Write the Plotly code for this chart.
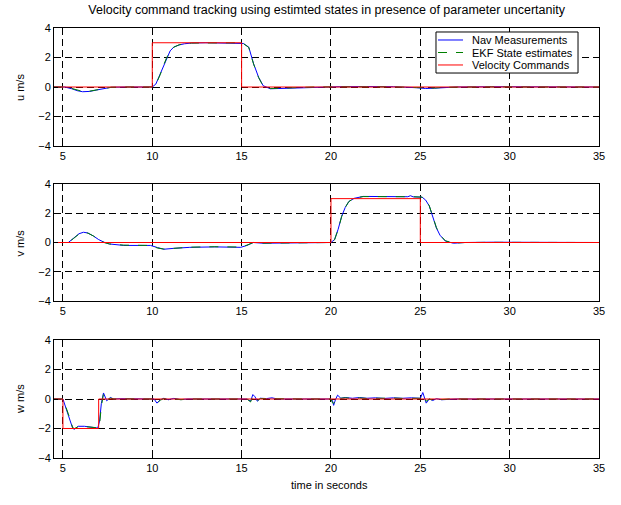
import plotly.graph_objects as go
from plotly.subplots import make_subplots

# ---------------- data ----------------
x_ticks = [5, 10, 15, 20, 25, 30, 35]
y_ticks = [-4, -2, 0, 2, 4]

series_names = ["Nav Measurements", "EKF State estimates", "Velocity Commands"]
y_labels = ["u m/s", "v m/s", "w m/s"]
title_text = "Velocity command tracking using estimted states in presence of parameter uncertanity"
x_label = "time in seconds"

# commands
t_cmd_u = [4.5, 10, 10, 15, 15, 35]
u_cmd = [0, 0, 3, 3, 0, 0]
t_cmd_v = [4.5, 20, 20, 25, 25, 35]
v_cmd = [0, 0, 3, 3, 0, 0]
t_cmd_w = [4.5, 5, 5, 7, 7, 35]
w_cmd = [0, 0, -2, -2, 0, 0]

# u
t_u = [4.5, 5.1, 5.5, 5.8, 6.1, 6.5, 6.9, 7.3, 7.7, 8.5, 9.5, 10.0, 10.2, 10.45, 10.6,
       10.8, 11.0, 11.2, 11.5, 11.8, 12.2, 13.0, 14.0, 14.9, 15.1, 15.4, 15.67, 15.95,
       16.2, 16.6, 17.2, 18.0, 19.0, 20.5, 22.0, 23.5, 24.8, 25.3, 25.8, 26.3, 27.0,
       29.0, 31.0, 33.0, 35.0]
u_nav = [0, 0, -0.12, -0.25, -0.32, -0.3, -0.2, -0.1, -0.02, 0, 0, 0, 0.2, 0.9, 1.4,
         2.0, 2.45, 2.7, 2.85, 2.93, 2.98, 3.0, 3.0, 3.0, 2.95, 2.7, 1.57, 0.66,
         0.09, -0.12, -0.1, -0.05, 0, 0.02, 0.03, 0.02, -0.05, -0.1, -0.08, -0.03, 0,
         0.02, 0, 0.01, 0]
u_ekf = [0, 0, -0.1, -0.22, -0.3, -0.28, -0.2, -0.08, -0.02, 0, 0, 0, 0.18, 0.85, 1.38,
         1.98, 2.43, 2.7, 2.86, 2.94, 2.98, 3.0, 2.99, 3.0, 2.94, 2.68, 1.55, 0.64,
         0.08, -0.1, -0.08, -0.04, 0, 0.01, 0.02, 0.01, -0.04, -0.08, -0.07, -0.02, 0,
         0.01, 0, 0, 0]

# v
t_v = [4.5, 5.3, 5.6, 5.9, 6.15, 6.4, 6.7, 7.0, 7.3, 7.6, 8.4, 9.9, 10.3, 10.65, 11.2,
       12.1, 13.5, 14.75, 14.95, 15.3, 15.65, 16.2, 17.0, 18.5, 20.0, 20.2, 20.4, 20.6,
       20.8, 21.0, 21.3, 21.8, 23.0, 24.3, 24.45, 24.6, 25.1, 25.3, 25.5, 25.7, 25.9,
       26.1, 26.4, 26.85, 27.5, 29.0, 31.0, 33.0, 35.0]
v_nav = [0, 0, 0.3, 0.6, 0.7, 0.65, 0.45, 0.2, 0.02, -0.1, -0.2, -0.2, -0.35, -0.46, -0.4,
         -0.33, -0.3, -0.3, -0.33, -0.2, 0, -0.05, -0.03, 0, 0, 0.2, 0.9, 1.8,
         2.4, 2.8, 3.02, 3.15, 3.15, 3.13, 3.2, 3.12, 3.1, 2.9, 2.5, 1.7, 1.0,
         0.5, 0.1, -0.05, 0, 0.02, 0, 0.01, 0]
v_ekf = [0, 0, 0.28, 0.58, 0.68, 0.64, 0.45, 0.2, 0.0, -0.1, -0.18, -0.2, -0.38, -0.45, -0.4,
         -0.32, -0.29, -0.3, -0.31, -0.18, 0, -0.04, -0.03, 0, 0, 0.18, 0.88, 1.78,
         2.4, 2.8, 3.03, 3.14, 3.15, 3.14, 3.16, 3.13, 3.1, 2.92, 2.52, 1.72, 1.02,
         0.52, 0.12, -0.04, 0, 0.01, 0, 0.02, 0]

# w
t_w = [4.5, 5.0, 5.3, 5.55, 5.65, 5.85, 6.2, 6.6, 6.95, 7.05, 7.15, 7.27, 7.45, 7.65, 7.85,
       8.2, 9.5, 10.1, 10.26, 10.45, 10.65, 10.9, 11.2, 11.6, 12.0, 13.5, 15.3, 15.5,
       15.63, 15.75, 15.88, 16.05, 16.4, 16.7, 17.0, 18.5, 20.0, 20.08, 20.15, 20.25,
       20.37, 20.55, 20.8, 21.2, 21.6, 22.0, 22.5, 23.0, 23.5, 24.0, 24.5, 25.0, 25.14,
       25.33, 25.5, 25.7, 25.9, 26.2, 26.6, 27.0, 30.0, 35.0]
w_nav = [0, 0, -1.1, -2.0, -2.05, -1.85, -1.85, -1.93, -1.97, -1.5, -0.3, 0.41, -0.12, 0.1, 0,
         0.02, 0, 0, -0.28, -0.05, 0.05, -0.05, 0.04, -0.04, 0, 0, 0, -0.15,
         0.3, 0.15, -0.15, 0.05, 0.03, 0.08, 0, 0, 0, -0.1, -0.43, -0.05,
         0.26, 0.05, 0.1, 0.05, 0.1, 0.05, 0.08, 0.04, 0.08, 0.05, 0.08, 0.05, 0.44,
         -0.28, 0.0, -0.1, 0.02, -0.05, 0.0, 0, 0, 0]
w_ekf = [0, 0, -1.0, -1.95, -2.0, -1.88, -1.87, -1.92, -1.95, -1.7, -0.5, 0.35, -0.08, 0.06, 0,
         0.01, 0, 0, -0.3, -0.08, 0.03, -0.06, 0.02, -0.05, 0, 0, 0, -0.2,
         0.2, 0.1, -0.12, 0.03, 0.02, 0.05, 0, 0, 0, -0.25, -0.3, -0.1,
         0.15, 0.05, 0.08, 0.04, 0.07, 0.04, 0.06, 0.03, 0.06, 0.04, 0.06, 0.05, 0.3,
         -0.15, 0.0, -0.08, 0.01, -0.04, 0, 0, 0, 0]

# ---------------- figure ----------------
FONT = "Liberation Sans, Arial, sans-serif"
colors = ["#0000ff", "#008000", "#ff0000"]
dashes = ["solid", "dash", "solid"]

fig = make_subplots(rows=3, cols=1)

panels = [
    (t_u, u_nav, u_ekf, t_cmd_u, u_cmd),
    (t_v, v_nav, v_ekf, t_cmd_v, v_cmd),
    (t_w, w_nav, w_ekf, t_cmd_w, w_cmd),
]
for i, (t, nav, ekf, tc, cmd) in enumerate(panels):
    row = i + 1
    data = [(t, nav), (t, ekf), (tc, cmd)]
    for k, (xx, yy) in enumerate(data):
        fig.add_trace(go.Scatter(
            x=xx, y=yy, mode="lines", name=series_names[k],
            line=dict(color=colors[k], width=1, dash=dashes[k]),
            showlegend=False,
        ), row=row, col=1)

domains = [[0.7256, 1.0], [0.3651, 0.6372], [0.0, 0.2744]]
for i in range(3):
    n = "" if i == 0 else str(i + 1)
    common = dict(
        showline=True, mirror=True, linecolor="black", linewidth=1,
        ticks="inside", ticklen=4, tickcolor="black",
        showgrid=True, gridcolor="black", griddash="7px,4px", gridwidth=1,
        zeroline=False, tickfont=dict(family=FONT, size=11, color="black"),
    )
    fig.layout["xaxis" + n].update(domain=[0, 1], range=[4.5, 35], tickvals=x_ticks, **common)
    fig.layout["yaxis" + n].update(domain=domains[i], range=[-4, 4], tickvals=y_ticks, **common)
    mid = (domains[i][0] + domains[i][1]) / 2
    fig.add_annotation(
        text=y_labels[i], xref="paper", yref="paper", x=-0.0624, y=mid,
        textangle=-90, showarrow=False, xanchor="center", yanchor="middle",
        font=dict(family=FONT, size=11, color="black"),
    )

fig.add_annotation(
    text=x_label, xref="paper", yref="paper", x=0.506, y=-0.0628,
    showarrow=False, xanchor="center", yanchor="middle",
    font=dict(family=FONT, size=11, color="black"),
)

# ---- compact legend (box, line samples, labels) in paper coordinates ----
leg_x0, leg_x1, leg_y0, leg_y1 = 0.7009, 0.9615, 0.8953, 0.9907
row_y = [0.9721, 0.9430, 0.9140]
fig.add_shape(type="rect", xref="paper", yref="paper",
              x0=leg_x0, x1=leg_x1, y0=leg_y0, y1=leg_y1,
              fillcolor="white", line=dict(color="black", width=1), layer="above")
for k in range(3):
    fig.add_shape(type="line", xref="paper", yref="paper",
                  x0=0.7046, x1=0.7505, y0=row_y[k], y1=row_y[k],
                  line=dict(color=colors[k], width=1, dash=dashes[k]), layer="above")
    fig.add_annotation(text=series_names[k], xref="paper", yref="paper",
                       x=0.7651, y=row_y[k], xanchor="left", yanchor="middle",
                       showarrow=False, borderpad=0,
                       font=dict(family=FONT, size=11, color="black"))

fig.update_layout(
    width=621, height=505,
    margin=dict(l=54, r=22, t=28, b=47),
    paper_bgcolor="white", plot_bgcolor="white",
    title=dict(text=title_text, x=0.526, xanchor="center", y=0.980, yanchor="middle",
               font=dict(family=FONT, size=12.5, color="black")),
    showlegend=False,
)

fig.write_html("out.html")
